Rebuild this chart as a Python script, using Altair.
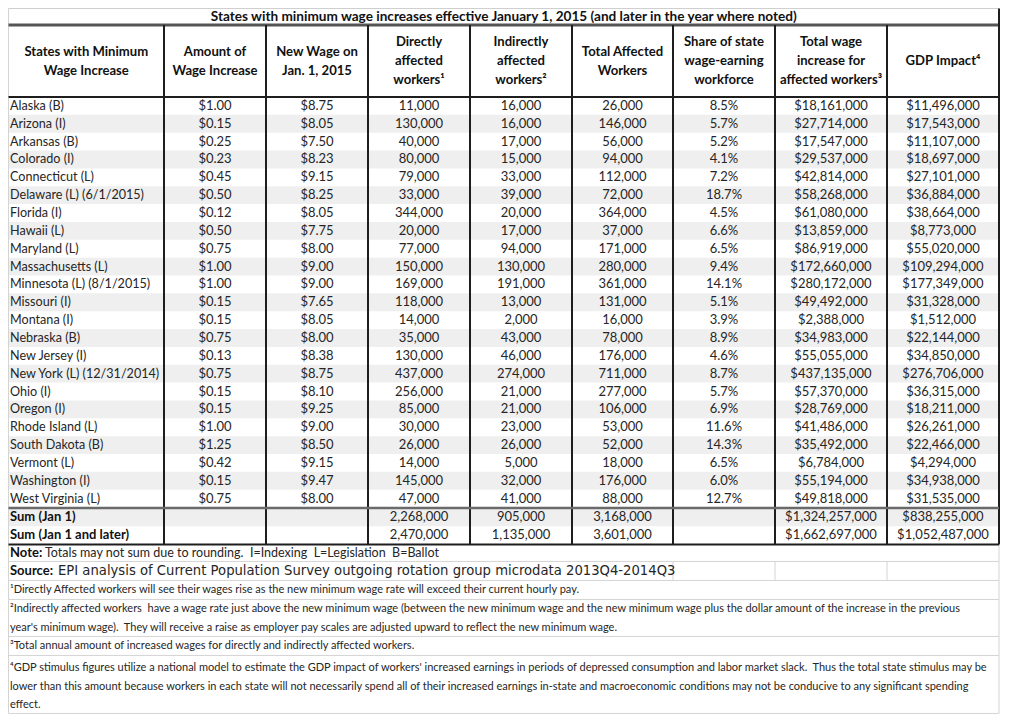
import altair as alt
import pandas as pd

# ---------------- data ----------------
title = "States with minimum wage increases effective January 1, 2015 (and later in the year where noted)"
headers = [
    ["States with Minimum", "Wage Increase"],
    ["Amount of", "Wage Increase"],
    ["New Wage on", "Jan. 1, 2015"],
    ["Directly", "affected", "workers¹"],
    ["Indirectly", "affected", "workers²"],
    ["Total Affected", "Workers"],
    ["Share of state", "wage-earning", "workforce"],
    ["Total wage", "increase for", "affected workers³"],
    ["GDP Impact⁴"],
]
states = ["Alaska (B)", "Arizona (I)", "Arkansas (B)", "Colorado (I)", "Connecticut (L)",
          "Delaware (L) (6/1/2015)", "Florida (I)", "Hawaii (L)", "Maryland (L)",
          "Massachusetts (L)", "Minnesota (L) (8/1/2015)", "Missouri (I)", "Montana (I)",
          "Nebraska (B)", "New Jersey (I)", "New York (L) (12/31/2014)", "Ohio (I)",
          "Oregon (I)", "Rhode Island (L)", "South Dakota (B)", "Vermont (L)",
          "Washington (I)", "West Virginia (L)"]
amount = [1.00, 0.15, 0.25, 0.23, 0.45, 0.50, 0.12, 0.50, 0.75, 1.00, 1.00, 0.15,
          0.15, 0.75, 0.13, 0.75, 0.15, 0.15, 1.00, 1.25, 0.42, 0.15, 0.75]
new_wage = [8.75, 8.05, 7.50, 8.23, 9.15, 8.25, 8.05, 7.75, 8.00, 9.00, 9.00, 7.65,
            8.05, 8.00, 8.38, 8.75, 8.10, 9.25, 9.00, 8.50, 9.15, 9.47, 8.00]
direct = [11000, 130000, 40000, 80000, 79000, 33000, 344000, 20000, 77000, 150000,
          169000, 118000, 14000, 35000, 130000, 437000, 256000, 85000, 30000, 26000,
          14000, 145000, 47000]
indirect = [16000, 16000, 17000, 15000, 33000, 39000, 20000, 17000, 94000, 130000,
            191000, 13000, 2000, 43000, 46000, 274000, 21000, 21000, 23000, 26000,
            5000, 32000, 41000]
total = [26000, 146000, 56000, 94000, 112000, 72000, 364000, 37000, 171000, 280000,
         361000, 131000, 16000, 78000, 176000, 711000, 277000, 106000, 53000, 52000,
         18000, 176000, 88000]
share = [8.5, 5.7, 5.2, 4.1, 7.2, 18.7, 4.5, 6.6, 6.5, 9.4, 14.1, 5.1, 3.9, 8.9,
         4.6, 8.7, 5.7, 6.9, 11.6, 14.3, 6.5, 6.0, 12.7]
wage_total = [18161000, 27714000, 17547000, 29537000, 42814000, 58268000, 61080000,
              13859000, 86919000, 172660000, 280172000, 49492000, 2388000, 34983000,
              55055000, 437135000, 57370000, 28769000, 41486000, 35492000, 6784000,
              55194000, 49818000]
gdp = [11496000, 17543000, 11107000, 18697000, 27101000, 36884000, 38664000, 8773000,
       55020000, 109294000, 177349000, 31328000, 1512000, 22144000, 34850000,
       276706000, 36315000, 18211000, 26261000, 22466000, 4294000, 34938000, 31535000]
sum_labels = ["Sum (Jan 1)", "Sum (Jan 1 and later)"]
sum_direct = [2268000, 2470000]
sum_indirect = [905000, 1135000]
sum_total = [3168000, 3601000]
sum_wage = [1324257000, 1662697000]
sum_gdp = [838255000, 1052487000]

note_label = "Note:"
note_text = "Totals may not sum due to rounding.\u00a0 I=Indexing\u00a0 L=Legislation\u00a0 B=Ballot"
source_label = "Source:"
source_text = "EPI analysis of Current Population Survey outgoing rotation group microdata 2013Q4-2014Q3"
footnotes = [
    ["¹Directly Affected workers will see their wages rise as the new minimum wage rate will exceed their current hourly pay."],
    ["²Indirectly affected workers\u00a0 have a wage rate just above the new minimum wage (between the new minimum wage and the new minimum wage plus the dollar amount of the increase in the previous",
     "year's minimum wage).\u00a0 They will receive a raise as employer pay scales are adjusted upward to reflect the new minimum wage."],
    ["³Total annual amount of increased wages for directly and indirectly affected workers."],
    ["⁴GDP stimulus figures utilize a national model to estimate the GDP impact of workers' increased earnings in periods of depressed consumption and labor market slack.\u00a0 Thus the total state stimulus may be",
     "lower than this amount because workers in each state will not necessarily spend all of their increased earnings in-state and macroeconomic conditions may not be conducive to any significant spending",
     "effect."],
]

# ---------------- layout (page pixel units) ----------------
col_edges = [8.5, 164, 266, 368, 470, 572, 673, 775, 887, 999]
LEFT, RIGHT = col_edges[0], col_edges[-1]
TITLE_TOP, TITLE_BOT = 8.5, 25
HEAD_BOT = 97
ROW_H = 17.85
n = len(states)
SUM_TOP = HEAD_BOT + n * ROW_H + 0.5
SUM_H = 18.2
TABLE_BOT = SUM_TOP + 2 * SUM_H
foot_edges = [TABLE_BOT, TABLE_BOT + 17, TABLE_BOT + 36, TABLE_BOT + 55,
              TABLE_BOT + 92, TABLE_BOT + 111, TABLE_BOT + 169]
FOOT_LINE = 18.2

centers = [(col_edges[i] + col_edges[i + 1]) / 2 for i in range(len(col_edges) - 1)]

FONT = "Lato"

xs = alt.Scale(domain=[8, 1008], nice=False, zero=False)
ys = alt.Scale(domain=[8, 717], nice=False, zero=False, reverse=True)

# ---------------- cell tables ----------------
body_c, body_l, bold_l = [], [], []
for i in range(n):
    yc = HEAD_BOT + (i + 0.5) * ROW_H
    body_l.append({"x": 10, "y": yc, "t": states[i]})
    vals = [f"${amount[i]:.2f}", f"${new_wage[i]:.2f}", f"{direct[i]:,}", f"{indirect[i]:,}",
            f"{total[i]:,}", f"{share[i]:.1f}%", f"${wage_total[i]:,}", f"${gdp[i]:,}"]
    for j, v in enumerate(vals):
        body_c.append({"x": centers[j + 1], "y": yc, "t": v})
for k in range(2):
    yc = SUM_TOP + (k + 0.5) * SUM_H
    bold_l.append({"x": 10, "y": yc, "t": sum_labels[k]})
    for j, v in [(3, f"{sum_direct[k]:,}"), (4, f"{sum_indirect[k]:,}"), (5, f"{sum_total[k]:,}"),
                 (7, f"${sum_wage[k]:,}"), (8, f"${sum_gdp[k]:,}")]:
        body_c.append({"x": centers[j], "y": yc, "t": v})

head = []
for j, lines in enumerate(headers):
    m = len(lines)
    mid = (TITLE_BOT + HEAD_BOT) / 2
    for q, line in enumerate(lines):
        head.append({"x": centers[j], "y": mid + (q - (m - 1) / 2) * 19, "t": line})

note_y = (foot_edges[0] + foot_edges[1]) / 2
src_y = (foot_edges[1] + foot_edges[2]) / 2
bold_l.append({"x": 10, "y": note_y, "t": note_label})
bold_l.append({"x": 10, "y": src_y, "t": source_label})
note_rows = [{"x": 45, "y": note_y, "t": note_text}]
src_rows = [{"x": 58, "y": src_y, "t": source_text}]

foot = []
for f, lines in enumerate(footnotes):
    top = foot_edges[f + 2]
    for q, line in enumerate(lines):
        foot.append({"x": 10, "y": top + 10 + q * FOOT_LINE + (3 if f == 3 else 0), "t": line})

# ---------------- shading and rules ----------------
shade = []
for i in range(1, n, 2):
    shade.append({"x": LEFT, "x2": RIGHT, "y": HEAD_BOT + i * ROW_H, "y2": HEAD_BOT + (i + 1) * ROW_H})
shade.append({"x": LEFT, "x2": RIGHT, "y": SUM_TOP, "y2": SUM_TOP + SUM_H})

rules = []
def rule(x, y, x2, y2, c, w):
    rules.append({"x": x, "y": y, "x2": x2, "y2": y2, "c": c, "w": w})

# footer light grid
for yy in foot_edges[1:]:
    rule(LEFT, yy, RIGHT, yy, "#d4d4d4", 1)
rule(RIGHT, TABLE_BOT, RIGHT, foot_edges[-1], "#d4d4d4", 1)
for xx in col_edges[6:9]:
    rule(xx, foot_edges[1], xx, foot_edges[2], "#d4d4d4", 1)
rule(LEFT, TITLE_TOP, LEFT, foot_edges[-1], "#d4d4d4", 1)
rule(LEFT, TITLE_TOP, RIGHT, TITLE_TOP, "#cfcfcf", 1)
# table structure
rule(LEFT, TITLE_BOT, RIGHT, TITLE_BOT, "#555555", 3)
for xx in col_edges[1:-1]:
    rule(xx, TITLE_BOT, xx, TABLE_BOT, "#1e1e1e", 2)
rule(RIGHT, TITLE_TOP, RIGHT, TABLE_BOT, "#1e1e1e", 2)
rule(LEFT, HEAD_BOT, RIGHT, HEAD_BOT, "#1e1e1e", 2)
rule(LEFT, SUM_TOP, RIGHT, SUM_TOP, "#6a6a6a", 2.5)
rule(LEFT, TABLE_BOT, RIGHT, TABLE_BOT, "#1e1e1e", 2)

# ---------------- chart ----------------
def X(f="x"):
    return alt.X(f"{f}:Q", scale=xs, axis=None)

def Y(f="y"):
    return alt.Y(f"{f}:Q", scale=ys, axis=None)

shade_layer = alt.Chart(pd.DataFrame(shade)).mark_rect(color="#efefef").encode(
    x=X(), x2="x2", y=Y(), y2="y2")

rule_layer = alt.Chart(pd.DataFrame(rules)).mark_rule().encode(
    x=X(), x2="x2", y=Y(), y2="y2",
    color=alt.Color("c:N", scale=None),
    strokeWidth=alt.StrokeWidth("w:Q", scale=None))

def text_layer(rows, align, size, weight="normal", font=FONT, color="#262626"):
    return alt.Chart(pd.DataFrame(rows)).mark_text(
        align=align, baseline="middle", fontSize=size, fontWeight=weight,
        font=font, color=color).encode(x=X(), y=Y(), text="t:N")

title_layer = text_layer([{"x": (LEFT + RIGHT) / 2, "y": 16.6, "t": title}],
                         "center", 13.6, "bold", color="#111111")
head_layer = text_layer(head, "center", 13.1, "bold", color="#111111")
body_c_layer = text_layer(body_c, "center", 13)
body_l_layer = text_layer(body_l, "left", 12.6)
bold_l_layer = text_layer(bold_l, "left", 13, "bold", color="#111111")
note_layer = text_layer(note_rows, "left", 12.5)
src_layer = text_layer(src_rows, "left", 13.2, font="DejaVu Sans")
foot_layer = text_layer(foot, "left", 11)

chart = alt.layer(
    shade_layer, rule_layer, title_layer, head_layer, body_c_layer, body_l_layer,
    bold_l_layer, note_layer, src_layer, foot_layer
).properties(
    width=1000, height=709, padding=0, autosize=alt.AutoSizeParams(type="none"),
    background="white"
).configure_view(strokeWidth=0)

chart.save("out.html", embed_options={"renderer": "svg", "actions": False})
